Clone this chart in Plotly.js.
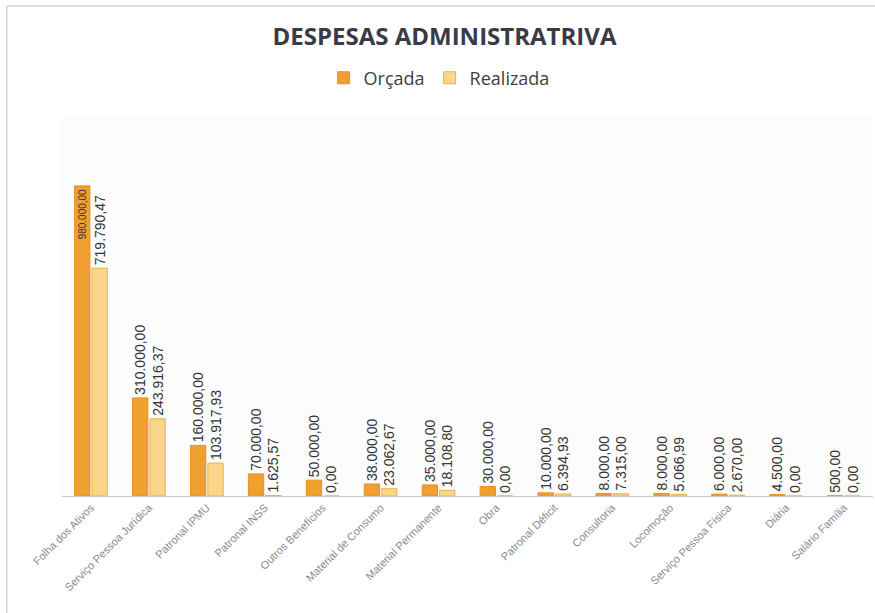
<!DOCTYPE html>
<html>
<head>
<meta charset="utf-8">
<script src="https://cdn.plot.ly/plotly-3.0.1.min.js"></script>
<style>html,body{margin:0;padding:0;background:#fff;}#chart{width:875px;height:613px;}</style>
</head>
<body>
<div id="chart"></div>
<script>
const categories = ["Folha dos Ativos","Serviço Pessoa Jurídica","Patronal IPMU","Patronal INSS","Outros Benefícios","Material de Consumo","Material Permanente","Obra","Patronal Déficit","Consultoria","Locomoção","Serviço Pessoa Física","Diária","Salário Família"];
const orcada = [980000,310000,160000,70000,50000,38000,35000,30000,10000,8000,8000,6000,4500,500];
const realizada = [719790.47,243916.37,103917.93,1625.57,0,23062.67,18108.80,0,6394.93,7315.00,5066.99,2670.00,0,0];

function fmt(v){
  const parts = v.toFixed(2).split('.');
  const int = parts[0].replace(/\B(?=(\d{3})+(?!\d))/g,'.');
  return int + ',' + parts[1];
}

const lblFont = {family:'Liberation Sans, Arial', size:14, color:'#333'};

const tr1 = {
  type:'bar', name:'Orçada', x:categories, y:orcada,
  text:orcada.map(fmt),
  textposition:orcada.map((v,i)=> i===0 ? 'inside' : 'outside'),
  insidetextanchor:'end',
  textangle:-90,
  constraintext:'none',
  textfont:lblFont,
  insidetextfont:{family:'Liberation Sans, Arial', size:10, color:'#333'},
  outsidetextfont:lblFont,
  cliponaxis:false,
  marker:{color:'#F0A030', line:{color:'#E89020', width:1}}
};
const tr2 = {
  type:'bar', name:'Realizada', x:categories, y:realizada,
  text:realizada.map(fmt),
  textposition:'outside',
  textangle:-90,
  constraintext:'none',
  textfont:lblFont,
  outsidetextfont:lblFont,
  cliponaxis:false,
  marker:{color:'#F9D68C', line:{color:'#F0B040', width:1}}
};

const layout = {
  width:875, height:613,
  margin:{l:62, r:2, t:115, b:117},
  paper_bgcolor:'#ffffff',
  plot_bgcolor:'#fcfcfc',
  title:{text:'DESPESAS ADMINISTRATRIVA', x:0.508, xanchor:'center', y:0.94, yanchor:'middle',
    font:{family:'Open Sans, Liberation Sans, Arial', size:24, color:'#3a3a48', weight:'bold'}},
  showlegend:true,
  legend:{orientation:'h', x:0.465, xanchor:'center', y:1.097, yanchor:'middle',
    font:{family:'Open Sans, Liberation Sans, Arial', size:18, color:'#404040'}, itemwidth:30, traceorder:'normal'},
  barmode:'group', bargap:0.4, bargroupgap:0.12,
  separators:',.',
  xaxis:{type:'category', tickangle:-45, tickfont:{family:'Liberation Sans, Arial', size:11, color:'#8a8a8a'},
    showline:true, linecolor:'#c8c8c8', linewidth:1, ticks:'', showgrid:false},
  yaxis:{range:[0,1204000], visible:false, showgrid:false, zeroline:false},
  shapes:[
    {type:'line', xref:'paper', yref:'paper', x0:-0.068, x1:1.01, y0:1.286, y1:1.286, line:{color:'#c0c0c0', width:1}},
    {type:'line', xref:'paper', yref:'paper', x0:-0.068, x1:-0.068, y0:1.286, y1:-0.33, line:{color:'#c0c0c0', width:1}}
  ]
};

Plotly.newPlot('chart',[tr1,tr2],layout,{displayModeBar:false, staticPlot:true});
</script>
</body>
</html>
